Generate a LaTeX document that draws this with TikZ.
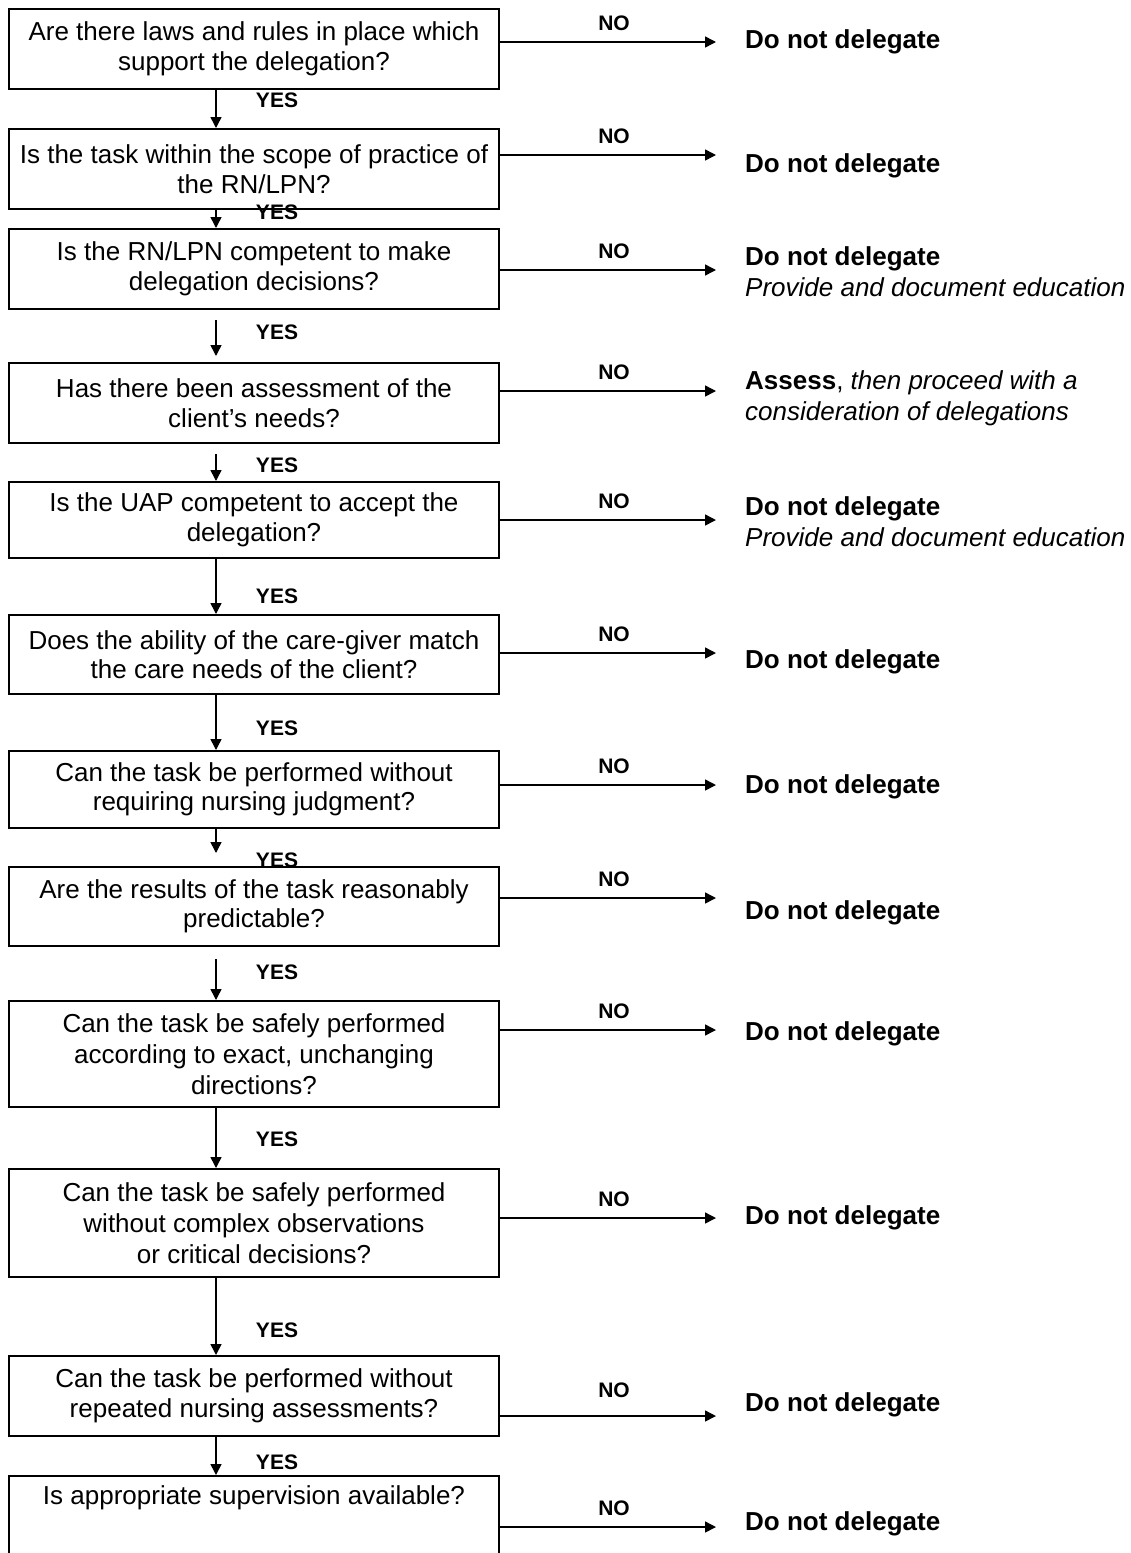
\documentclass[tikz,border=0pt]{standalone}
\usepackage{fontspec}
\setmainfont{Liberation Sans}
\usetikzlibrary{arrows.meta}
\begin{document}
\begin{tikzpicture}[x=1pt,y=-1pt,
  qbox/.style={draw, line width=2pt, minimum width=490pt, align=center, inner sep=0pt, anchor=north, font=\fontsize{26}{29.5}\selectfont},
  flow/.style={line width=1.5pt, -{Triangle[length=11pt,width=11pt]}},
  lab/.style={font=\bfseries\fontsize{21}{24}\selectfont, inner sep=0pt},
  res/.style={anchor=west, align=left, inner sep=0pt, font=\fontsize{26}{31}\selectfont}]
\useasboundingbox (0,0) rectangle (1131,1553);
\fill[white] (0,0) rectangle (1131,1553);

% question boxes
\node[qbox, minimum height=80pt] (q1) at (254,8) {Are there laws and rules in place which\\support the delegation?};
\node[qbox, minimum height=80pt] (q2) at (254,128) {Is the task within the scope of practice of\\the RN/LPN?};
\node[qbox, minimum height=80pt] (q3) at (254,228) {Is the RN/LPN competent to make\\delegation decisions?};
\node[qbox, minimum height=80pt] (q4) at (254,362) {Has there been assessment of the\\client’s needs?};
\node[qbox, minimum height=76pt] (q5) at (254,481) {Is the UAP competent to accept the\\delegation?};
\node[qbox, minimum height=79pt] (q6) at (254,614) {Does the ability of the care-giver match\\the care needs of the client?};
\node[qbox, minimum height=77pt] (q7) at (254,750) {Can the task be performed without\\requiring nursing judgment?};
\node[qbox, minimum height=79pt] (q8) at (254,866) {Are the results of the task reasonably\\predictable?};
\node[qbox, minimum height=106pt, font=\fontsize{26}{31}\selectfont] (q9) at (254,1000) {Can the task be safely performed\\according to exact, unchanging\\directions?};
\node[qbox, minimum height=108pt, font=\fontsize{26}{31}\selectfont] (q10) at (254,1168) {Can the task be safely performed\\without complex observations\\or critical decisions?};
\node[qbox, minimum height=80pt] (q11) at (254,1355) {Can the task be performed without\\repeated nursing assessments?};
\node[qbox, minimum height=110pt] (q12) at (254,1475) {};
\node[anchor=north, inner sep=0pt, font=\fontsize{26}{30}\selectfont] (q12t) at ([yshift=-10pt]q12.north) {Is appropriate supervision available?};

% YES connectors
\draw[flow] ([xshift=-38pt]q1.south) -- ([xshift=-38pt]q2.north);
\draw[flow] ([xshift=-38pt]q2.south) -- ([xshift=-38pt]q3.north);
\draw[flow, shorten <=10pt, shorten >=6pt] ([xshift=-38pt]q3.south) -- ([xshift=-38pt]q4.north);
\draw[flow, shorten <=10pt] ([xshift=-38pt]q4.south) -- ([xshift=-38pt]q5.north);
\draw[flow] ([xshift=-38pt]q5.south) -- ([xshift=-38pt]q6.north);
\draw[flow] ([xshift=-38pt]q6.south) -- ([xshift=-38pt]q7.north);
\draw[flow, shorten >=13pt] ([xshift=-38pt]q7.south) -- ([xshift=-38pt]q8.north);
\draw[flow, shorten <=12pt] ([xshift=-38pt]q8.south) -- ([xshift=-38pt]q9.north);
\draw[flow] ([xshift=-38pt]q9.south) -- ([xshift=-38pt]q10.north);
\draw[flow] ([xshift=-38pt]q10.south) -- ([xshift=-38pt]q11.north);
\draw[flow] ([xshift=-38pt]q11.south) -- ([xshift=-38pt]q12.north);

% YES labels
\node[lab] (y1) at (277,100) {YES};
\node[lab] (y2) at (277,212) {YES};
\node[lab] (y3) at (277,332) {YES};
\node[lab] (y4) at (277,465) {YES};
\node[lab] (y5) at (277,596) {YES};
\node[lab] (y6) at (277,728) {YES};
\node[lab] (y7) at (277,860) {YES};
\node[lab] (y8) at (277,972) {YES};
\node[lab] (y9) at (277,1139) {YES};
\node[lab] (y10) at (277,1330) {YES};
\node[lab] (y11) at (277,1462) {YES};

% NO branches
\coordinate (e1) at (716,42);
\coordinate (e2) at (716,155);
\coordinate (e3) at (716,270);
\coordinate (e4) at (716,391);
\coordinate (e5) at (716,520);
\coordinate (e6) at (716,653);
\coordinate (e7) at (716,785);
\coordinate (e8) at (716,898);
\coordinate (e9) at (716,1030);
\coordinate (e10) at (716,1218);
\coordinate (e11) at (716,1416);
\coordinate (e12) at (716,1527);
\foreach \i in {1,...,12} {
  \draw[flow] (q\i.east |- e\i) -- (e\i);
}
\node[lab] (n1) at (614,23) {NO};
\node[lab] (n2) at (614,136) {NO};
\node[lab] (n3) at (614,251) {NO};
\node[lab] (n4) at (614,372) {NO};
\node[lab] (n5) at (614,501) {NO};
\node[lab] (n6) at (614,634) {NO};
\node[lab] (n7) at (614,766) {NO};
\node[lab] (n8) at (614,879) {NO};
\node[lab] (n9) at (614,1011) {NO};
\node[lab] (n10) at (614,1199) {NO};
\node[lab] (n11) at (614,1390) {NO};
\node[lab] (n12) at (614,1508) {NO};

% outcomes
\node[res] (r1) at (745,42) {\textbf{Do not delegate}};
\node[res] (r2) at (745,166) {\textbf{Do not delegate}};
\node[res] (r3) at (745,272) {\textbf{Do not delegate}\\\textit{Provide and document education}};
\node[res] (r4) at (745,398) {\textbf{Assess}, \textit{then proceed with a}\\\textit{consideration of delegations}};
\node[res] (r5) at (745,522) {\textbf{Do not delegate}\\\textit{Provide and document education}};
\node[res] (r6) at (745,662) {\textbf{Do not delegate}};
\node[res] (r7) at (745,787) {\textbf{Do not delegate}};
\node[res] (r8) at (745,913) {\textbf{Do not delegate}};
\node[res] (r9) at (745,1034) {\textbf{Do not delegate}};
\node[res] (r10) at (745,1218) {\textbf{Do not delegate}};
\node[res] (r11) at (745,1405) {\textbf{Do not delegate}};
\node[res] (r12) at (745,1524) {\textbf{Do not delegate}};
\end{tikzpicture}
\end{document}
